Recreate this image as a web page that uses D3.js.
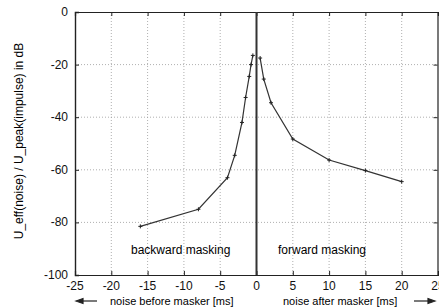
<!DOCTYPE html>
<html lang="en">
<head>
    <meta charset="UTF-8">
    <title>Backward and forward masking</title>
    <script src="https://d3js.org/d3.v7.min.js"></script>
    <style>
        body {
            margin: 0;
            background-color: #ffffff;
            font-family: "Liberation Sans", Arial, sans-serif;
        }
        svg {
            display: block;
        }
        .grid line {
            stroke: #9a9a9a;
            stroke-width: 0.8;
            stroke-dasharray: 1 2;
        }
        .tick-label {
            font-size: 12px;
            fill: #111;
        }
        .curve {
            fill: none;
            stroke: #333;
            stroke-width: 1.2;
        }
        .marker {
            stroke: #222;
            stroke-width: 1;
        }
    </style>
</head>
<body>

<svg id="chart"></svg>

<script>
    const width = 439;
    const height = 307;

    // noise before masker (backward masking), time in ms / level in dB
    const backwardTime = [-16, -8, -4, -3, -2, -1.5, -1, -0.75, -0.5];
    const backwardLevel = [-81.5, -75, -63, -54.5, -42, -32.5, -24.5, -20, -16.5];

    // noise after masker (forward masking)
    const forwardTime = [0.5, 1, 2, 5, 10, 15, 20];
    const forwardLevel = [-17.5, -25.5, -34.5, -48.3, -56.3, -60.3, -64.5];

    const xTicks = [-25, -20, -15, -10, -5, 0, 5, 10, 15, 20, 25];
    const yTicks = [0, -20, -40, -60, -80, -100];

    const margin = { top: 12, right: 1, bottom: 32, left: 75 };

    const svg = d3.select("#chart")
        .attr("width", width)
        .attr("height", height);

    const x = d3.scaleLinear()
        .domain([-25, 25])
        .range([margin.left, width - margin.right]);

    const y = d3.scaleLinear()
        .domain([0, -100])
        .range([margin.top, height - margin.bottom]);

    const x0 = x.range()[0], x1 = x.range()[1];
    const y0 = y.range()[0], y1 = y.range()[1];

    // dotted grid
    const grid = svg.append("g").attr("class", "grid");
    grid.selectAll(".vx")
        .data(xTicks.filter(d => d !== -25 && d !== 25 && d !== 0))
        .enter().append("line")
        .attr("x1", d => x(d)).attr("x2", d => x(d))
        .attr("y1", y0).attr("y2", y1);
    grid.selectAll(".hy")
        .data(yTicks.filter(d => d !== 0 && d !== -100))
        .enter().append("line")
        .attr("x1", x0).attr("x2", x1)
        .attr("y1", d => y(d)).attr("y2", d => y(d));

    // frame with inward ticks
    svg.append("g")
        .attr("transform", `translate(0,${y1})`)
        .call(d3.axisBottom(x).tickValues(xTicks).tickSize(-4).tickFormat(""))
        .call(g => g.select(".domain").attr("stroke", "#222").attr("stroke-width", 1.2));
    svg.append("g")
        .attr("transform", `translate(0,${y0})`)
        .call(d3.axisTop(x).tickValues(xTicks).tickSize(-4).tickFormat(""))
        .call(g => g.select(".domain").attr("stroke", "#222").attr("stroke-width", 1.2));
    svg.append("g")
        .attr("transform", `translate(${x0},0)`)
        .call(d3.axisLeft(y).tickValues(yTicks).tickSize(-4).tickFormat(""))
        .call(g => g.select(".domain").attr("stroke", "#222").attr("stroke-width", 1.4));
    svg.append("g")
        .attr("transform", `translate(${x1 - 0.5},0)`)
        .call(d3.axisRight(y).tickValues(yTicks).tickSize(-4).tickFormat(""))
        .call(g => g.select(".domain").attr("stroke", "#222").attr("stroke-width", 1.2));
    svg.selectAll(".tick line").attr("stroke", "#222");

    // masker position
    svg.append("line")
        .attr("x1", x(0)).attr("x2", x(0))
        .attr("y1", y0).attr("y2", y1)
        .attr("stroke", "#333")
        .attr("stroke-width", 2);

    // tick labels
    svg.selectAll(".xl")
        .data(xTicks)
        .enter().append("text")
        .attr("class", "tick-label")
        .attr("x", d => x(d))
        .attr("y", 290)
        .attr("text-anchor", "middle")
        .text(d => d);

    svg.selectAll(".yl")
        .data(yTicks)
        .enter().append("text")
        .attr("class", "tick-label")
        .attr("x", 68)
        .attr("y", d => y(d) + 4)
        .attr("text-anchor", "end")
        .text(d => d);

    // curves
    const line = d3.line()
        .x(d => x(d[0]))
        .y(d => y(d[1]));

    const backward = backwardTime.map((t, i) => [t, backwardLevel[i]]);
    const forward = forwardTime.map((t, i) => [t, forwardLevel[i]]);

    [backward, forward].forEach(series => {
        svg.append("path")
            .datum(series)
            .attr("class", "curve")
            .attr("d", line);

        svg.append("g").selectAll("path")
            .data(series)
            .enter().append("path")
            .attr("class", "marker")
            .attr("d", d => {
                const cx = x(d[0]), cy = y(d[1]);
                return `M${cx - 2},${cy}H${cx + 2}M${cx},${cy - 2}V${cy + 2}`;
            });
    });

    // region labels
    svg.append("text")
        .attr("x", 131).attr("y", 254)
        .style("font-size", "12px")
        .text("backward masking");
    svg.append("text")
        .attr("x", 278).attr("y", 254)
        .style("font-size", "12px")
        .text("forward masking");

    // axis titles
    svg.append("text")
        .attr("transform", "translate(23,141) rotate(-90)")
        .attr("text-anchor", "middle")
        .style("font-size", "12px")
        .text("U_eff(noise) / U_peak(impulse) in dB");

    svg.append("text")
        .attr("x", 110).attr("y", 305)
        .style("font-size", "11px")
        .text("noise before masker [ms]");
    svg.append("text")
        .attr("x", 283).attr("y", 305)
        .style("font-size", "11px")
        .text("noise after masker [ms]");

    // direction arrows
    const arrows = svg.append("g").attr("stroke", "#222").attr("stroke-width", 1.2).attr("fill", "#222");
    arrows.append("line").attr("x1", 80).attr("x2", 97).attr("y1", 301).attr("y2", 301);
    arrows.append("path").attr("d", "M76,301L83,298.5L83,303.5Z");
    arrows.append("line").attr("x1", 414).attr("x2", 431).attr("y1", 301).attr("y2", 301);
    arrows.append("path").attr("d", "M435,301L428,298.5L428,303.5Z");
</script>

</body>
</html>
